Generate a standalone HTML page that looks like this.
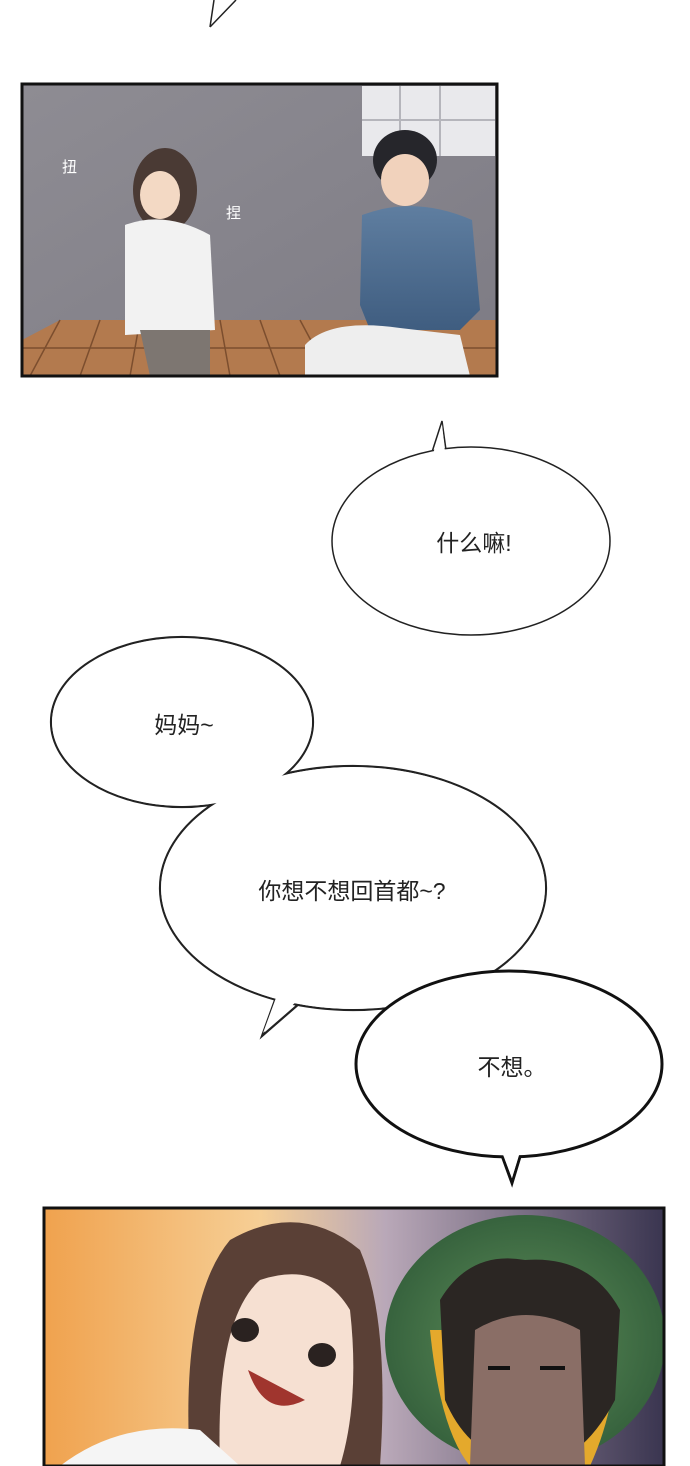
<!DOCTYPE html>
<html><head><meta charset="utf-8"><style>
html,body{margin:0;padding:0;background:#fff;}
svg{display:block}
text{font-family:"Liberation Sans","Noto Sans CJK SC",sans-serif;font-size:23px;fill:#222}
</style></head><body>
<svg width="690" height="1466" viewBox="0 0 690 1466" xmlns="http://www.w3.org/2000/svg">
<defs>
<linearGradient id="wall" x1="0" y1="0" x2="1" y2="1"><stop offset="0" stop-color="#8e8c93"/><stop offset="1" stop-color="#7d7b84"/></linearGradient>
<linearGradient id="shirt" x1="0" y1="0" x2="0" y2="1"><stop offset="0" stop-color="#5f7ea0"/><stop offset="1" stop-color="#3f5d80"/></linearGradient>
<linearGradient id="bg2" x1="0" y1="0" x2="1" y2="0"><stop offset="0" stop-color="#f0a24e"/><stop offset="0.35" stop-color="#f6cf96"/><stop offset="0.55" stop-color="#b9a8b8"/><stop offset="1" stop-color="#3a3550"/></linearGradient>
<radialGradient id="pump" cx="0.5" cy="0.5" r="0.6"><stop offset="0" stop-color="#5f8f5a"/><stop offset="1" stop-color="#2f5a38"/></radialGradient>
</defs>
<path d="M210 27 L214 0 M210 27 L236 0" stroke="#222" stroke-width="1.5" fill="none"/>
<rect x="22" y="84" width="475" height="292" fill="url(#wall)"/>
<rect x="362" y="86" width="133" height="70" fill="#e9e9ec"/>
<path d="M362 120 H495 M400 86 V156 M440 86 V156" stroke="#b5b5bb" stroke-width="2"/>
<polygon points="22,376 22,340 60,320 497,320 497,376" fill="#b37a4e"/>
<path d="M60 320 L30 376 M100 320 L80 376 M140 320 L130 376 M180 320 L180 376 M220 320 L230 376 M260 320 L280 376 M300 320 L330 376 M22 348 H497" stroke="#7c4e2e" stroke-width="1.5"/>
<ellipse cx="165" cy="190" rx="32" ry="42" fill="#4a3a34"/>
<ellipse cx="160" cy="195" rx="20" ry="24" fill="#f3d9c4"/>
<path d="M125 225 Q165 210 210 235 L215 330 L125 335 Z" fill="#f2f2f2"/>
<path d="M140 330 L210 330 L210 376 L150 376 Z" fill="#7d7671"/>
<ellipse cx="405" cy="160" rx="32" ry="30" fill="#26262b"/>
<ellipse cx="405" cy="180" rx="24" ry="26" fill="#f1d2bc"/>
<path d="M362 215 Q415 195 472 220 L480 310 L460 330 L370 330 L360 305 Z" fill="url(#shirt)"/>
<path d="M305 345 Q330 318 400 328 L460 335 L470 376 L305 376 Z" fill="#eeeeee"/>
<rect x="22" y="84" width="475" height="292" fill="none" stroke="#111" stroke-width="3"/>
<text x="62" y="172" style="font-size:15px;fill:#fff">扭</text>
<text x="226" y="218" style="font-size:15px;fill:#fff">捏</text>
<path d="M432 452 L442 421 L446 450" fill="#fff" stroke="#222" stroke-width="1.5"/>
<ellipse cx="471" cy="541" rx="139" ry="94" fill="#fff" stroke="#222" stroke-width="1.5"/>
<path d="M433 454 L442 424 L445 452 Z" fill="#fff"/>
<text x="474" y="551" text-anchor="middle">什么嘛!</text>
<g stroke="#222" stroke-width="2.2" fill="none">
<ellipse cx="182" cy="722" rx="131" ry="85"/>
<ellipse cx="353" cy="888" rx="193" ry="122"/>
<path d="M275 1000 L262 1036 L300 1003"/>
</g>
<g fill="#fff">
<ellipse cx="182" cy="722" rx="130" ry="84"/>
<ellipse cx="353" cy="888" rx="192" ry="121"/>
<path d="M277 995 L263 1033 L298 1000 Z"/>
</g>
<text x="184" y="733" text-anchor="middle">妈妈~</text>
<text x="352" y="899" text-anchor="middle">你想不想回首都~?</text>
<path d="M500 1150 L512 1183 L522 1150" fill="#fff" stroke="#111" stroke-width="3"/>
<ellipse cx="509" cy="1064" rx="153" ry="93" fill="#fff" stroke="#111" stroke-width="3"/>
<path d="M502 1152 L512 1178 L520 1152 Z" fill="#fff"/>
<text x="512" y="1075" text-anchor="middle">不想。</text>
<rect x="44" y="1208" width="620" height="258" fill="url(#bg2)"/>
<path d="M190 1466 Q180 1300 230 1240 Q300 1200 360 1250 Q390 1320 380 1466 Z" fill="#5a4036"/>
<path d="M220 1466 Q215 1320 260 1280 Q320 1260 350 1310 Q360 1400 340 1466 Z" fill="#f6e0d2"/>
<path d="M60 1466 Q120 1420 200 1430 L240 1466 Z" fill="#f5f5f5"/>
<ellipse cx="245" cy="1330" rx="14" ry="12" fill="#2a2220"/>
<ellipse cx="322" cy="1355" rx="14" ry="12" fill="#2a2220"/>
<path d="M248 1370 Q265 1420 305 1400 Z" fill="#a0352e"/>
<ellipse cx="525" cy="1340" rx="140" ry="125" fill="url(#pump)"/>
<path d="M430 1330 Q440 1430 470 1466 L590 1466 Q620 1400 615 1330 Z" fill="#e4a92c"/>
<path d="M440 1300 Q470 1250 525 1260 Q590 1255 620 1310 L615 1400 Q580 1466 530 1466 Q470 1460 445 1400 Z" fill="#2b2623"/>
<path d="M475 1330 Q525 1300 580 1330 L585 1466 L470 1466 Z" fill="#8a6e66"/>
<path d="M488 1368 H510 M540 1368 H565" stroke="#111" stroke-width="4"/>
<rect x="44" y="1208" width="620" height="258" fill="none" stroke="#111" stroke-width="3"/>
</svg>
</body></html>
